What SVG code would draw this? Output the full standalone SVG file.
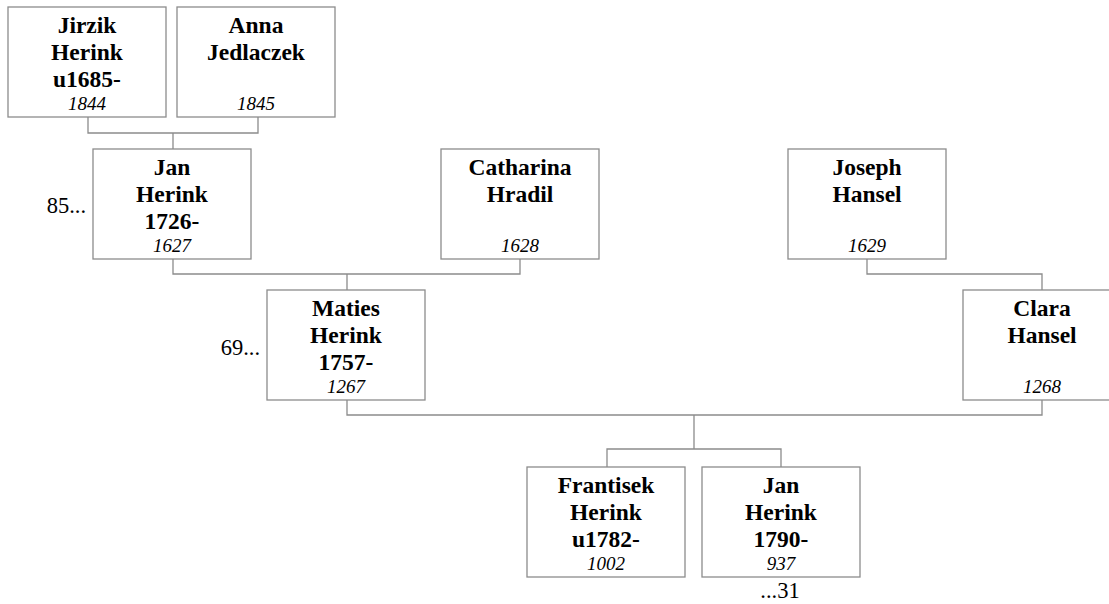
<svg xmlns="http://www.w3.org/2000/svg" width="1109" height="604" viewBox="0 0 1109 604">
<style>
.box{fill:#fff;stroke:#8c8c8c;stroke-width:1.3}
.con{fill:none;stroke:#8c8c8c;stroke-width:1.3}
text{font-family:'Liberation Serif','Times New Roman',serif;fill:#000}
.n{font-weight:bold;font-size:23.5px;text-anchor:middle}
.d{font-style:italic;font-size:19px;text-anchor:middle}
.s{font-size:22.5px}
</style>
<rect width="1109" height="604" fill="#fff"/>
<g id="connectors">
<path class="con" d="M88,117 V133 H258 V117 M173,133 V149"/>
<path class="con" d="M173,258 V274 H520 V258 M347,274 V290"/>
<path class="con" d="M867,258 V274 H1042 V290"/>
<path class="con" d="M347,399 V415 H1042 V399 M694,415 V449 M607,467 V449 H781 V467"/>
</g>
<g id="jirzik">
<rect class="box" x="8" y="7" width="158" height="110"/>
<text class="n" x="87" y="33">Jirzik</text>
<text class="n" x="87" y="60">Herink</text>
<text class="n" x="87" y="87">u1685-</text>
<text class="d" x="87" y="110">1844</text>
</g>
<g id="anna">
<rect class="box" x="177" y="7" width="158" height="110"/>
<text class="n" x="256" y="33">Anna</text>
<text class="n" x="256" y="60">Jedlaczek</text>
<text class="d" x="256" y="110">1845</text>
</g>
<g id="jan1">
<rect class="box" x="93" y="149" width="158" height="110"/>
<text class="n" x="172" y="175">Jan</text>
<text class="n" x="172" y="202">Herink</text>
<text class="n" x="172" y="229">1726-</text>
<text class="d" x="172" y="252">1627</text>
<text class="s" x="86" y="213" text-anchor="end">85...</text>
</g>
<g id="catharina">
<rect class="box" x="441" y="149" width="158" height="110"/>
<text class="n" x="520" y="175">Catharina</text>
<text class="n" x="520" y="202">Hradil</text>
<text class="d" x="520" y="252">1628</text>
</g>
<g id="joseph">
<rect class="box" x="788" y="149" width="158" height="110"/>
<text class="n" x="867" y="175">Joseph</text>
<text class="n" x="867" y="202">Hansel</text>
<text class="d" x="867" y="252">1629</text>
</g>
<g id="maties">
<rect class="box" x="267" y="290" width="158" height="110"/>
<text class="n" x="346" y="316">Maties</text>
<text class="n" x="346" y="343">Herink</text>
<text class="n" x="346" y="370">1757-</text>
<text class="d" x="346" y="393">1267</text>
<text class="s" x="260" y="355" text-anchor="end">69...</text>
</g>
<g id="clara">
<rect class="box" x="963" y="290" width="158" height="110"/>
<text class="n" x="1042" y="316">Clara</text>
<text class="n" x="1042" y="343">Hansel</text>
<text class="d" x="1042" y="393">1268</text>
</g>
<g id="frantisek">
<rect class="box" x="527" y="467" width="158" height="110"/>
<text class="n" x="606" y="493">Frantisek</text>
<text class="n" x="606" y="520">Herink</text>
<text class="n" x="606" y="547">u1782-</text>
<text class="d" x="606" y="570">1002</text>
</g>
<g id="jan2">
<rect class="box" x="702" y="467" width="158" height="110"/>
<text class="n" x="781" y="493">Jan</text>
<text class="n" x="781" y="520">Herink</text>
<text class="n" x="781" y="547">1790-</text>
<text class="d" x="781" y="570">937</text>
<text class="s" x="780" y="598" text-anchor="middle">...31</text>
</g>
</svg>
